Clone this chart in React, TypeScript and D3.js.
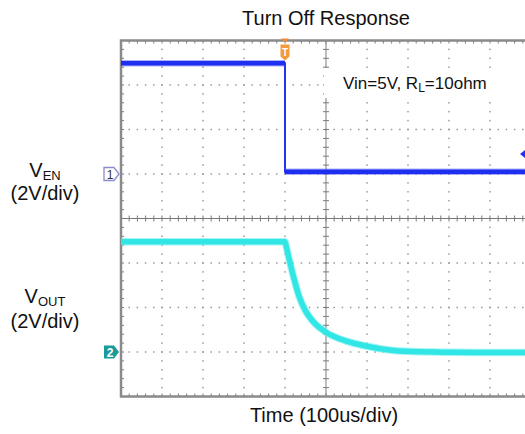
import * as d3 from "d3";
import { useEffect } from "react";

// time in microseconds relative to trigger, volts per channel
const enTime = [-400, 0, 0, 600];
const enVolts = [4.98, 4.98, 0.1, 0.1];

const outTime = [-400, 0, 3, 10, 22, 34, 50, 67, 99, 148, 197, 254, 310, 400, 500, 600];
const outVolts = [4.96, 4.96, 4.75, 4.18, 3.29, 2.52, 1.85, 1.4, 0.9, 0.5, 0.27, 0.09, 0.02, -0.01, -0.02, -0.02];

const voltsPerDiv = 2;
const ch1OffsetDiv = 1;
const ch2OffsetDiv = -3;
const triggerLevel = 0.9;

const title = "Turn Off Response";
const xLabel = "Time (100us/div)";

const W = 525;
const H = 434;

export default function App() {
  useEffect(() => {
    document.body.style.margin = "0";
  }, []);

  const x = d3.scaleLinear().domain([-400, 600]).range([121, 531]);
  const yDiv = d3.scaleLinear().domain([-4, 4]).range([396.5, 40.5]);
  const y1 = (v: number) => yDiv(v / voltsPerDiv + ch1OffsetDiv);
  const y2 = (v: number) => yDiv(v / voltsPerDiv + ch2OffsetDiv);

  const xDivs = d3.range(-400, 601, 100);
  const yDivs = d3.range(-4, 5, 1);
  const xMinor = d3.range(-400, 601, 20);
  const yMinor = d3.range(-4, 4.001, 0.2);

  const en = enTime.map((t, i) => ({ t, v: enVolts[i] }));
  const out = outTime.map((t, i) => ({ t, v: outVolts[i] }));

  const enLine = d3
    .line<{ t: number; v: number }>()
    .x((d) => x(d.t))
    .y((d) => y1(d.v));
  const outLine = d3
    .line<{ t: number; v: number }>()
    .x((d) => x(d.t))
    .y((d) => y2(d.v))
    .curve(d3.curveMonotoneX);

  const gridDot = "#9a9a9a";
  const axisCol = "#7a7a7a";
  const font = "'Liberation Sans', Arial, sans-serif";

  const top = yDiv(4);
  const bottom = yDiv(-4);
  const left = x(-400);
  const cx = x(100);
  const cy = yDiv(0);

  const g1 = y1(0);
  const g2 = y2(0);
  const tx = x(0);

  return (
    <svg width={W} height={H} style={{ display: "block", background: "#fff" }} fontFamily={font}>
      {/* dotted grid */}
      <g fill={gridDot}>
        {yDivs
          .filter((d) => d !== 0 && d !== 4 && d !== -4)
          .map((d) =>
            xMinor.map((t) => (
              <rect key={`h${d}-${t}`} x={x(t) - 0.75} y={yDiv(d) - 0.75} width={1.5} height={1.5} />
            ))
          )}
        {xDivs
          .filter((t) => t !== 100 && t !== -400)
          .map((t) =>
            yMinor.map((d) => (
              <rect key={`v${t}-${d}`} x={x(t) - 0.75} y={yDiv(d) - 0.75} width={1.5} height={1.5} />
            ))
          )}
      </g>

      {/* center axes with ticks */}
      <g stroke={axisCol} strokeWidth={1}>
        <line x1={left} x2={W} y1={cy} y2={cy} />
        <line x1={cx} x2={cx} y1={top} y2={bottom} />
        {xMinor.map((t) => (
          <line key={`cxt${t}`} x1={x(t)} x2={x(t)} y1={cy - 3} y2={cy + 3} />
        ))}
        {yMinor.map((d) => (
          <line key={`cyt${d}`} x1={cx - 3} x2={cx + 3} y1={yDiv(d)} y2={yDiv(d)} />
        ))}
        {xMinor.map((t) => (
          <line key={`tt${t}`} x1={x(t)} x2={x(t)} y1={top} y2={top + 3} />
        ))}
        {xMinor.map((t) => (
          <line key={`bt${t}`} x1={x(t)} x2={x(t)} y1={bottom} y2={bottom - 3} />
        ))}
        {yMinor.map((d) => (
          <line key={`lt${d}`} x1={left} x2={left + 3} y1={yDiv(d)} y2={yDiv(d)} />
        ))}
      </g>

      {/* border */}
      <rect x={left} y={top} width={x(600) - left} height={bottom - top} fill="none" stroke="#8a8a8a" strokeWidth={2.5} />

      {/* annotation box */}
      <rect x={324} y={68} width={W - 324} height={30} fill="#fff" />
      <text x={343} y={89} fontSize={17} fill="#111">
        Vin=5V, R
        <tspan fontSize={12} dy={3}>L</tspan>
        <tspan dy={-3}>=10ohm</tspan>
      </text>

      {/* VEN trace */}
      <path d={enLine(en) ?? ""} fill="none" stroke="#2233ee" strokeWidth={2} />
      <path d={enLine(en.slice(0, 2)) ?? ""} fill="none" stroke="#5a66f2" strokeOpacity={0.5} strokeWidth={6.5} />
      <path d={enLine(en.slice(2)) ?? ""} fill="none" stroke="#5a66f2" strokeOpacity={0.5} strokeWidth={6.5} />
      <path d={enLine(en.slice(0, 2)) ?? ""} fill="none" stroke="#1f2ff0" strokeWidth={4.5} />
      <path d={enLine(en.slice(2)) ?? ""} fill="none" stroke="#1f2ff0" strokeWidth={4.5} />

      {/* VOUT trace */}
      <path d={outLine(out) ?? ""} fill="none" stroke="#6aeeee" strokeOpacity={0.6} strokeWidth={7.5} strokeLinejoin="round" />
      <path d={outLine(out) ?? ""} fill="none" stroke="#33e6e6" strokeWidth={5.5} strokeLinejoin="round" />

      {/* trigger marker */}
      <path d={`M${tx - 4},${top - 2} L${tx + 4},${top - 2} L${tx},${top + 2} Z`} fill="#f08a3a" />
      <path
        d={`M${tx - 4.5},${top + 4} L${tx + 4.5},${top + 4} L${tx + 4.5},${top + 16} L${tx},${top + 20} L${tx - 4.5},${top + 16} Z`}
        fill="#f39a3c"
      />
      <text x={tx} y={top + 15} fontSize={10} fill="#fff" textAnchor="middle" fontWeight="bold">
        T
      </text>

      {/* trigger level marker */}
      <path d={`M${W},${y1(triggerLevel) - 4} L${W - 5},${y1(triggerLevel)} L${W},${y1(triggerLevel) + 4} Z`} fill="#2233ee" />

      {/* channel markers */}
      <path
        d={`M${104},${g1 - 6.5} L${114},${g1 - 6.5} L${119},${g1} L${114},${g1 + 6.5} L${104},${g1 + 6.5} Z`}
        fill="#fff"
        stroke="#8a8ad0"
        strokeWidth={1.3}
      />
      <text x={110} y={g1 + 4.5} fontSize={12} fill="#333" textAnchor="middle">
        1
      </text>
      <path
        d={`M${104},${g2 - 6.5} L${114},${g2 - 6.5} L${119},${g2} L${114},${g2 + 6.5} L${104},${g2 + 6.5} Z`}
        fill="#1a9a9a"
      />
      <text x={110} y={g2 + 4.5} fontSize={12} fill="#fff" textAnchor="middle" fontWeight="bold">
        2
      </text>

      {/* labels */}
      <text x={326} y={25} fontSize={20} textAnchor="middle" fill="#111">
        {title}
      </text>
      <text x={45} y={177} fontSize={20} textAnchor="middle" fill="#111">
        V<tspan fontSize={13} dy={3}>EN</tspan>
      </text>
      <text x={45} y={200} fontSize={20} textAnchor="middle" fill="#111">
        (2V/div)
      </text>
      <text x={45} y={303} fontSize={20} textAnchor="middle" fill="#111">
        V<tspan fontSize={13} dy={3}>OUT</tspan>
      </text>
      <text x={45} y={328} fontSize={20} textAnchor="middle" fill="#111">
        (2V/div)
      </text>
      <text x={324} y={422} fontSize={20} textAnchor="middle" fill="#111">
        {xLabel}
      </text>
    </svg>
  );
}
